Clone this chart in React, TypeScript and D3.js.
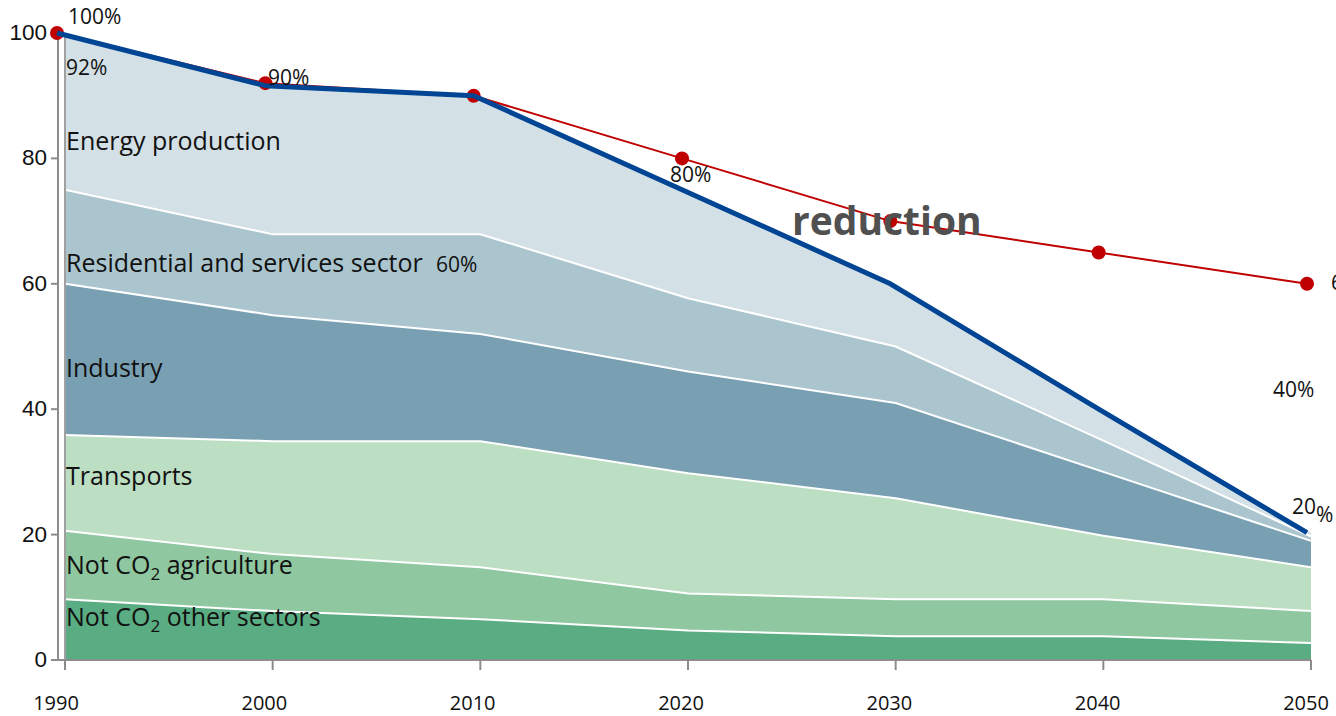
import React from "react";
import * as d3 from "d3";

const years = [1990, 2000, 2010, 2020, 2030, 2040, 2050];
const sectors = [
  "Not CO2 other sectors",
  "Not CO2 agriculture",
  "Transports",
  "Industry",
  "Residential and services sector",
  "Energy production",
];
// cumulative tops of each layer (stack order bottom -> top)
const otherTop = [9.7, 7.8, 6.5, 4.7, 3.8, 3.8, 2.7];
const agriTop = [20.6, 16.9, 14.8, 10.6, 9.7, 9.7, 7.8];
const transTop = [35.9, 34.9, 34.9, 29.8, 25.8, 19.8, 14.8];
const industryTop = [60, 55, 52, 46, 41, 30, 19];
const residentialTop = [75, 67.9, 67.9, 57.7, 50, 35, 19.7];
const energyTop = [100, 91.6, 90, 75, 60, 40, 20.3];
const layerTops = [otherTop, agriTop, transTop, industryTop, residentialTop, energyTop];
const layerColors = ["#5aad82", "#8fc7a0", "#bcdfc3", "#78a0b2", "#abc5cf", "#d3e0e6"];

const targetLine = [100, 91.6, 90, 75, 60, 40, 20.3];
const reductionPath = [100, 92, 90, 80, 70, 65, 60];

const yTicks = [0, 20, 40, 60, 80, 100];
const xTicks = years;

export default function App() {
  const W = 1336, H = 716;
  const xA = d3.scaleLinear().domain([1990, 2050]).range([65, 1311]);
  const xR = d3.scaleLinear().domain([1990, 2050]).range([57, 1307]);
  const y = d3.scaleLinear().domain([0, 100]).range([660, 33]);

  const layers = layerTops.map((tops, li) => {
    const bottoms = li === 0 ? years.map(() => 0) : layerTops[li - 1];
    const a = d3
      .area<number>()
      .x((_, i) => xA(years[i]))
      .y0((_, i) => y(bottoms[i]))
      .y1((d) => y(d));
    return a(tops) as string;
  });
  const topLine = d3
    .line<number>()
    .x((_, i) => xA(years[i]))
    .y((d) => y(d));

  const blue = d3
    .line<number>()
    .x((_, i) => xR(years[i]))
    .y((d) => y(d))(targetLine) as string;
  const red = d3
    .line<number>()
    .x((_, i) => xR(years[i]))
    .y((d) => y(d))(reductionPath) as string;

  const lf = "'Open Sans', 'Noto Sans', sans-serif";
  const labelSize = 25;
  const pctSize = 21;

  return (
    <svg width={W} height={H} style={{ position: "absolute", left: 0, top: 0, background: "#fff" }}>
      {layers.map((p, i) => (
        <path key={i} d={p} fill={layerColors[i]} />
      ))}
      {layerTops.slice(0, 5).map((tops, i) => (
        <path key={"w" + i} d={topLine(tops) as string} fill="none" stroke="#fff" strokeWidth={2} />
      ))}

      {/* axes */}
      <line x1={58} y1={y(100)} x2={58} y2={y(0)} stroke="#8c8c8c" strokeWidth={2} />
      <line x1={65} y1={y(100)} x2={65} y2={y(0)} stroke="#a0a0a0" strokeWidth={2} />
      <line x1={58} y1={y(0)} x2={xA(2050)} y2={y(0)} stroke="#8c8c8c" strokeWidth={2} />
      {yTicks.map((t) => (
        <g key={t}>
          <line x1={51} x2={58} y1={y(t)} y2={y(t)} stroke="#8c8c8c" strokeWidth={2} />
          <text x={47} y={y(t) + 7} textAnchor="end" fontFamily="'Liberation Sans', Arial, sans-serif" fontSize={22.5} fill="#111">
            {t}
          </text>
        </g>
      ))}
      {xTicks.map((t) => (
        <g key={t}>
          <line x1={xA(t)} x2={xA(t)} y1={y(0)} y2={y(0) + 10} stroke="#8c8c8c" strokeWidth={2} />
          <text x={xR(t) - 1} y={710} textAnchor="middle" fontFamily={lf} fontSize={20} fill="#111">
            {t}
          </text>
        </g>
      ))}

      {/* reduction path */}
      <path d={red} fill="none" stroke="#c00000" strokeWidth={2} />
      {reductionPath.map((v, i) => (
        <circle key={i} cx={xR(years[i])} cy={y(v)} r={7} fill="#c00000" />
      ))}
      <path d={blue} fill="none" stroke="#004494" strokeWidth={5} strokeLinejoin="round" />

      {/* sector labels */}
      <g fontFamily={lf} fontSize={labelSize} fill="#111">
        <text x={66} y={150}>Energy production</text>
        <text x={66} y={272}>Residential and services sector</text>
        <text x={66} y={377}>Industry</text>
        <text x={66} y={485}>Transports</text>
        <text x={66} y={574}>
          Not CO<tspan fontSize={17} dy={6}>2</tspan>
          <tspan dy={-6}> agriculture</tspan>
        </text>
        <text x={66} y={626}>
          Not CO<tspan fontSize={17} dy={6}>2</tspan>
          <tspan dy={-6}> other sectors</tspan>
        </text>
      </g>

      {/* percent labels */}
      <g fontFamily={lf} fontSize={pctSize} fill="#111">
        <text x={68} y={24}>100%</text>
        <text x={66} y={75}>92%</text>
        <text x={268} y={85}>90%</text>
        <text x={436} y={272}>60%</text>
        <text x={670} y={182}>80%</text>
        <text x={1273} y={397}>40%</text>
        <text x={1292} y={514}>
          20<tspan dy={8}>%</tspan>
        </text>
        <text x={1331} y={290}>60%</text>
      </g>

      <text x={792} y={235} fontFamily="'Open Sans', 'Noto Sans', sans-serif" fontWeight="bold" fontSize={39} fill="#505050">
        reduction
      </text>
    </svg>
  );
}
